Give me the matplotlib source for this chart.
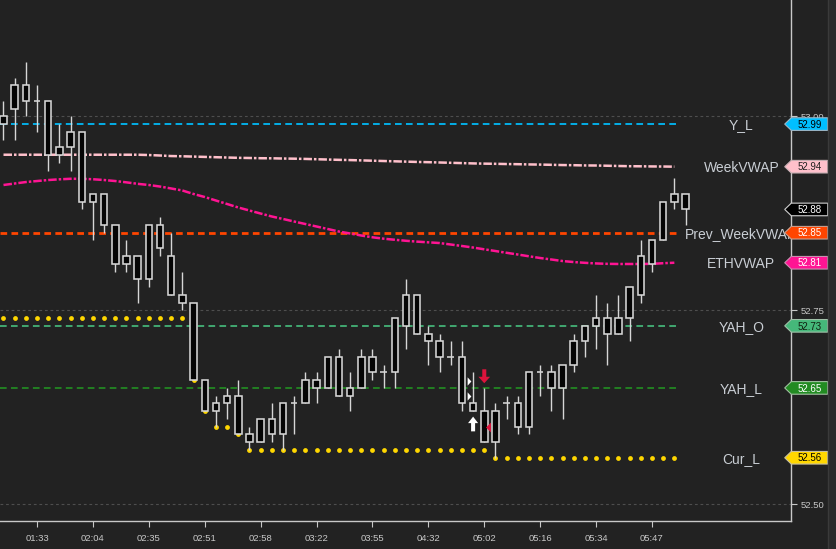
import matplotlib
matplotlib.use("Agg")
import matplotlib.pyplot as plt
from matplotlib.patches import Polygon, Rectangle
from matplotlib.lines import Line2D
from matplotlib.transforms import blended_transform_factory
from matplotlib import font_manager
import numpy as np

# ---------------- data ----------------
time_labels = ["01:33", "02:04", "02:35", "02:51", "02:58", "03:22",
               "03:55", "04:32", "05:02", "05:16", "05:34", "05:47"]
label_bars = [3, 8, 13, 18, 23, 28, 33, 38, 43, 48, 53, 58]

opens = [52.99, 53.01, 53.04, 53.02, 53.02, 52.95, 52.96, 52.98, 52.89, 52.90,
         52.86, 52.81, 52.82, 52.79, 52.86, 52.82, 52.77, 52.76, 52.66, 52.62,
         52.63, 52.64, 52.59, 52.58, 52.61, 52.59, 52.63, 52.63, 52.66, 52.65,
         52.69, 52.64, 52.65, 52.69, 52.67, 52.67, 52.73, 52.77, 52.72, 52.71,
         52.69, 52.69, 52.63, 52.62, 52.58, 52.63, 52.63, 52.60, 52.67, 52.67,
         52.65, 52.68, 52.71, 52.73, 52.74, 52.72, 52.74, 52.77, 52.81, 52.84,
         52.89, 52.90]
closes = [53.00, 53.04, 53.02, 53.02, 52.95, 52.96, 52.98, 52.89, 52.90, 52.86,
          52.81, 52.82, 52.79, 52.86, 52.83, 52.77, 52.76, 52.66, 52.62, 52.63,
          52.64, 52.59, 52.58, 52.61, 52.59, 52.63, 52.63, 52.66, 52.65, 52.69,
          52.64, 52.65, 52.69, 52.67, 52.67, 52.74, 52.77, 52.72, 52.71, 52.69,
          52.69, 52.63, 52.62, 52.58, 52.62, 52.63, 52.60, 52.67, 52.67, 52.65,
          52.68, 52.71, 52.73, 52.74, 52.72, 52.74, 52.78, 52.82, 52.84, 52.89,
          52.90, 52.88]
highs = [53.02, 53.05, 53.07, 53.04, 53.02, 52.99, 53.00, 52.98, 52.90, 52.90,
         52.86, 52.84, 52.82, 52.86, 52.87, 52.85, 52.80, 52.76, 52.66, 52.64,
         52.65, 52.66, 52.60, 52.61, 52.63, 52.63, 52.64, 52.67, 52.67, 52.69,
         52.70, 52.67, 52.70, 52.70, 52.68, 52.74, 52.79, 52.77, 52.73, 52.72,
         52.71, 52.71, 52.67, 52.65, 52.63, 52.64, 52.64, 52.67, 52.68, 52.68,
         52.68, 52.72, 52.73, 52.77, 52.76, 52.77, 52.78, 52.84, 52.84, 52.89,
         52.92, 52.90]
lows = [52.97, 52.97, 53.00, 52.98, 52.93, 52.94, 52.93, 52.88, 52.84, 52.85,
        52.80, 52.80, 52.76, 52.78, 52.82, 52.77, 52.75, 52.66, 52.62, 52.60,
        52.61, 52.59, 52.57, 52.58, 52.58, 52.57, 52.59, 52.63, 52.63, 52.65,
        52.64, 52.62, 52.65, 52.66, 52.65, 52.65, 52.70, 52.72, 52.68, 52.67,
        52.68, 52.62, 52.62, 52.58, 52.56, 52.61, 52.59, 52.59, 52.64, 52.62,
        52.61, 52.67, 52.69, 52.70, 52.68, 52.72, 52.71, 52.76, 52.80, 52.84,
        52.88, 52.86]

week_vwap = [52.9505, 52.9505, 52.9505, 52.9505, 52.9505, 52.9505, 52.9505, 52.9505,
             52.9505, 52.9505, 52.9505, 52.9505, 52.9505, 52.9501, 52.9495, 52.9488,
             52.9485, 52.9481, 52.9477, 52.9473, 52.9469, 52.9465, 52.9463, 52.9460,
             52.9459, 52.9456, 52.9454, 52.9451, 52.9447, 52.9443, 52.9439, 52.9436,
             52.9432, 52.9428, 52.9424, 52.9420, 52.9416, 52.9412, 52.9409, 52.9405,
             52.9401, 52.9397, 52.9393, 52.9390, 52.9388, 52.9385, 52.9383, 52.9380,
             52.9378, 52.9375, 52.9372, 52.9370, 52.9367, 52.9366, 52.9363, 52.9360,
             52.9357, 52.9356, 52.9354, 52.9353, 52.9351]
eth_vwap = [52.9115, 52.9134, 52.9153, 52.9166, 52.9179, 52.9188, 52.9195, 52.9195,
            52.9189, 52.9179, 52.9166, 52.9149, 52.9130, 52.9115, 52.9095, 52.9070,
            52.9044, 52.8999, 52.8960, 52.8915, 52.8870, 52.8825, 52.8786, 52.8747,
            52.8709, 52.8677, 52.8644, 52.8612, 52.8580, 52.8548, 52.8515, 52.8490,
            52.8464, 52.8441, 52.8423, 52.8409, 52.8396, 52.8385, 52.8376, 52.8367,
            52.8348, 52.8329, 52.8309, 52.8286, 52.8264, 52.8241, 52.8219, 52.8196,
            52.8174, 52.8155, 52.8135, 52.8122, 52.8112, 52.8104, 52.8099, 52.8097,
            52.8097, 52.8097, 52.8099, 52.8107, 52.8113]
cur_low = [52.74] * 17 + [52.66, 52.62, 52.60, 52.60, 52.59] + [52.57] * 22 + [52.56] * 17

level_names = ["Y_L", "Prev_WeekVWAP", "YAH_O", "YAH_L"]
level_values = [52.99, 52.85, 52.73, 52.65]
level_colors = ["#00BFFF", "#FF4500", "#45B87A", "#228B22"]

signal_tri_x = [41.6, 41.6]
signal_tri_y = [52.659, 52.6396]
up_arrow = (42, 52.594, 52.613)
down_arrow = (43, 52.674, 52.656)
red_tri = (43.29, 52.600)

# ---------------- fonts ----------------
installed = {f.name for f in font_manager.fontManager.ttflist}
NARROW = ["Liberation Sans Narrow"] if "Liberation Sans Narrow" in installed else []
SMALL_FAM = NARROW + ["Liberation Sans", "DejaVu Sans"]
TAG_SIZE = 8.0 if NARROW else 7.0
TICK_SIZE = 7.8 if NARROW else 6.8

# ---------------- figure ----------------
BG = "#222222"
FG = "#D6D6D6"
TXT = "#C9CED4"
W, H = 836, 549
fig = plt.figure(figsize=(W / 100, H / 100), dpi=100, facecolor=BG)
ax = fig.add_axes([0, 27.7 / H, 791.3 / W, 521.3 / H])
ax.set_facecolor(BG)
ax.set_xlim(-0.313, 70.46)
ax.set_ylim(52.4781, 53.1499)
PX = (53.1499 - 52.4781) / 521.3   # price per pixel

# scrollbar-ish strip on the far right
fig.add_artist(Rectangle((828 / W, 0), 8 / W, 1, transform=fig.transFigure,
                         facecolor="#2A2A2A", edgecolor="none", zorder=0))
fig.add_artist(Line2D([828 / W, 828 / W], [0, 1], transform=fig.transFigure,
                      color="#3A3A3A", lw=1))

# grid
ax.set_yticks([52.50, 52.75, 53.00])
ax.yaxis.grid(True, color="#4E4E4E", lw=0.8, linestyle=(0, (2.5, 2.5)))
ax.set_axisbelow(True)

# level lines
end_x = 60.3
for name, v, c in zip(level_names, level_values, level_colors):
    lw = 2.0 if name == "Prev_WeekVWAP" else 1.25
    ax.hlines(v, -0.313, end_x, colors=c, lw=lw,
              linestyles=[(0, (4.8 / lw, 3.1 / lw))], zorder=2)

# VWAP curves
ax.plot(np.arange(len(week_vwap)), week_vwap, color="#FFC0CB", lw=1.8,
        linestyle=(0, (3.4, 0.8, 1.0, 0.8)), zorder=2)
ax.plot(np.arange(len(eth_vwap)), eth_vwap, color="#FF1493", lw=1.8,
        linestyle=(0, (3.4, 0.8, 1.0, 0.8)), zorder=2)

# current low dots
ax.scatter(np.arange(len(cur_low)), cur_low, s=12, c="#FFD700", marker="o",
           linewidths=0, zorder=3)

# candles
n = len(opens)
x = np.arange(n)
o = np.array(opens); c = np.array(closes)
ax.vlines(x, lows, highs, color=FG, lw=1.0, zorder=4)
ax.bar(x, np.abs(c - o), bottom=np.minimum(o, c), width=0.58, color="#050505",
       edgecolor=FG, linewidth=1.15, zorder=5)

# signals
tri_r = [(-0.45, -1), (0.45, 0), (-0.45, 1)]
ax.scatter(signal_tri_x, signal_tri_y, marker=tri_r, s=36, c="white", linewidths=0, zorder=7)
tri_l = [(0.5, -1), (-0.5, 0), (0.5, 1)]
ax.scatter([red_tri[0]], [red_tri[1]], marker=tri_l, s=50, c="#DC143C", linewidths=0, zorder=7)
ax.arrow(up_arrow[0], up_arrow[1], 0, up_arrow[2] - up_arrow[1], width=0.36,
         head_width=0.9, head_length=6.5 * PX, length_includes_head=True,
         color="white", lw=0, zorder=7)
ax.arrow(down_arrow[0], down_arrow[1], 0, down_arrow[2] - down_arrow[1], width=0.36,
         head_width=1.05, head_length=6.5 * PX, length_includes_head=True,
         color="#DC143C", lw=0, zorder=7)

# right-side names
label_names = ["Y_L", "WeekVWAP", "Prev_WeekVWAP", "ETHVWAP", "YAH_O", "YAH_L", "Cur_L"]
label_vals = [level_values[0], week_vwap[-1], level_values[1], eth_vwap[-1],
              level_values[2], level_values[3], cur_low[-1]]
for nm, v in zip(label_names, label_vals):
    ax.text(66.0, v - 5.2 * PX, nm, ha="center", va="baseline", fontsize=10,
            family=["Liberation Sans", "DejaVu Sans"], color=TXT, clip_on=True, zorder=8)

# price tags
tr = blended_transform_factory(ax.transAxes, ax.transData)
tags = [
    (level_values[0], "#00BFFF", "#000000", "#9FB8C8"),
    (week_vwap[-1], "#FFC0CB", "#202020", "#C8B0B4"),
    (closes[-1], "#000000", "#FFFFFF", "#D0D0D0"),
    (level_values[1], "#FF4500", "#FFFFFF", "#C8A090"),
    (eth_vwap[-1], "#FF1493", "#FFFFFF", "#C890B0"),
    (level_values[2], "#45B87A", "#102010", "#A0C0A8"),
    (level_values[3], "#228B22", "#FFFFFF", "#A0C0A0"),
    (cur_low[-1], "#FFD700", "#000000", "#C8C0A0"),
]
hh = 6.3 * PX
xp, x0, x1 = 784.7 / 791.3, 1.0, 827.7 / 791.3
for v, fc, tc, ec in tags:
    poly = Polygon([(xp, v), (x0, v + hh), (x1, v + hh), (x1, v - hh), (x0, v - hh)],
                   closed=True, transform=tr, facecolor=fc, edgecolor=ec, lw=0.8,
                   clip_on=False, zorder=20)
    ax.add_patch(poly)
    ax.text((x0 + x1) / 2, v - 3.7 * PX, f"{v:.2f}", transform=tr, ha="center",
            va="baseline", fontsize=TAG_SIZE, family=SMALL_FAM,
            color=tc, clip_on=False, zorder=21)

# axes styling
for s in ["left", "top"]:
    ax.spines[s].set_visible(False)
for s in ["right", "bottom"]:
    ax.spines[s].set_color("#C8C8C8")
    ax.spines[s].set_linewidth(1.0)
ax.yaxis.tick_right()
ax.yaxis.set_major_formatter(matplotlib.ticker.FormatStrFormatter("%.2f"))
ax.tick_params(axis="y", colors="#C8C8C8", length=4, width=0.8, pad=2.5, labelsize=TICK_SIZE)
ax.set_xticks(label_bars)
ax.set_xticklabels(time_labels)
ax.tick_params(axis="x", colors="#C8C8C8", length=4, width=0.8, pad=5, labelsize=TICK_SIZE)
for lab in ax.get_xticklabels() + ax.get_yticklabels():
    lab.set_family(SMALL_FAM)
    lab.set_color("#C8C8C8")

fig.savefig("out.png", dpi=100, facecolor=BG)
